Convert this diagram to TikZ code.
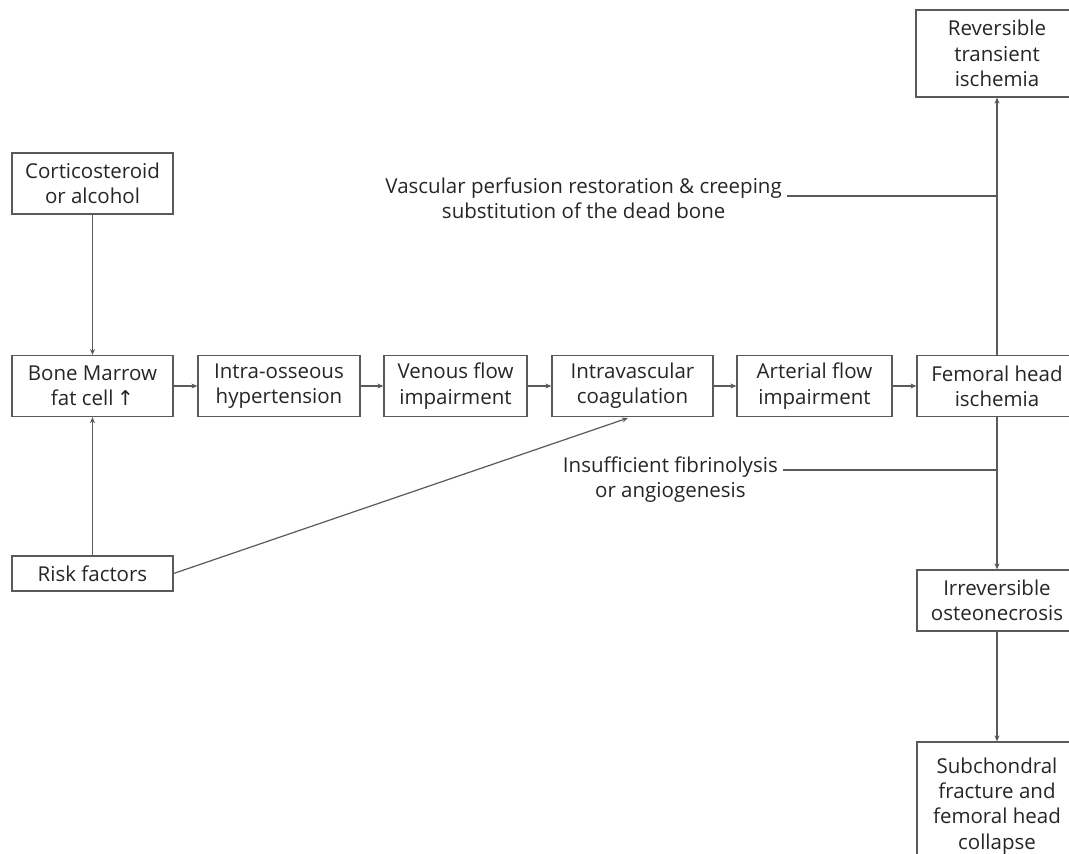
\documentclass[tikz,border=0pt]{standalone}
\usepackage{fontspec}
\setmainfont{Open Sans}
\newfontfamily\symfont{DejaVu Sans}
\usetikzlibrary{arrows.meta}
\definecolor{txt}{HTML}{262626}
\definecolor{ln}{HTML}{5a5a5a}
\tikzset{
  box/.style={draw=ln, line width=1.2pt, align=center, text=txt, inner sep=0pt,
    font=\fontsize{20.5}{25.3}\selectfont},
  lab/.style={align=center, text=txt, inner sep=3pt, font=\fontsize{20.5}{25}\selectfont},
  con/.style={draw=ln, line width=1.2pt},
  arr/.style={con, -{Stealth[length=6pt,width=5pt]}}
}
\begin{document}
\begin{tikzpicture}[x=1pt,y=-1pt]
\useasboundingbox (0,0) rectangle (1069,854);
\clip (0,0) rectangle (1069,854);
\fill[white] (0,0) rectangle (1069,854);
\node[box, minimum width=161pt, minimum height=61pt] (cort) at (92.5,183.5) {Corticosteroid\\or alcohol};
\node[box, minimum width=161pt, minimum height=61pt] (bm) at (92.5,386) {Bone Marrow\\fat cell{\symfont\,↑}};
\node[box, minimum width=162pt, minimum height=61pt] (intra) at (279,386) {Intra-osseous\\hypertension};
\node[box, minimum width=143pt, minimum height=61pt] (ven) at (455.5,386) {Venous flow\\impairment};
\node[box, minimum width=161pt, minimum height=61pt] (coag) at (632.5,386) {Intravascular\\coagulation};
\node[box, minimum width=155pt, minimum height=61pt] (art) at (814.5,386) {Arterial flow\\impairment};
\node[box, minimum width=160pt, minimum height=61pt] (fem) at (997,386) {Femoral head\\ischemia};
\node[box, minimum width=162pt, minimum height=87pt] (rev) at (997,53.5) {Reversible\\transient\\ischemia};
\node[box, minimum width=160pt, minimum height=61pt] (irr) at (997,600.5) {Irreversible\\osteonecrosis};
\node[box, minimum width=160pt, minimum height=128pt] (sub) at (997,806) {Subchondral\\fracture and\\femoral head\\collapse};
\node[box, minimum width=161pt, minimum height=35pt] (risk) at (92.5,573.5) {Risk factors};
\node[lab, anchor=east] (l1) at (785,198) {Vascular perfusion restoration \& creeping\\substitution of the dead bone};
\node[lab, anchor=east] (l2) at (781,480) {Insufficient fibrinolysis\\or angiogenesis};
\coordinate (j1) at (997,196);
\coordinate (j2) at (997,470);
\coordinate (c1) at (787,196);
\coordinate (c2) at (783,470);
\draw[arr] (cort) -- (bm);
\draw[arr] (risk) -- (bm);
\draw[arr] (bm) -- (intra);
\draw[arr] (intra) -- (ven);
\draw[arr] (ven) -- (coag);
\draw[arr] (coag) -- (art);
\draw[arr] (art) -- (fem);
\draw[arr] (fem) -- (rev);
\draw[arr] (fem) -- (irr);
\draw[arr] (irr) -- (sub);
\draw[arr] (risk.east) -- (628,418);
\draw[con] (c1) -- (j1);
\draw[con] (c2) -- (j2);
\end{tikzpicture}
\end{document}
